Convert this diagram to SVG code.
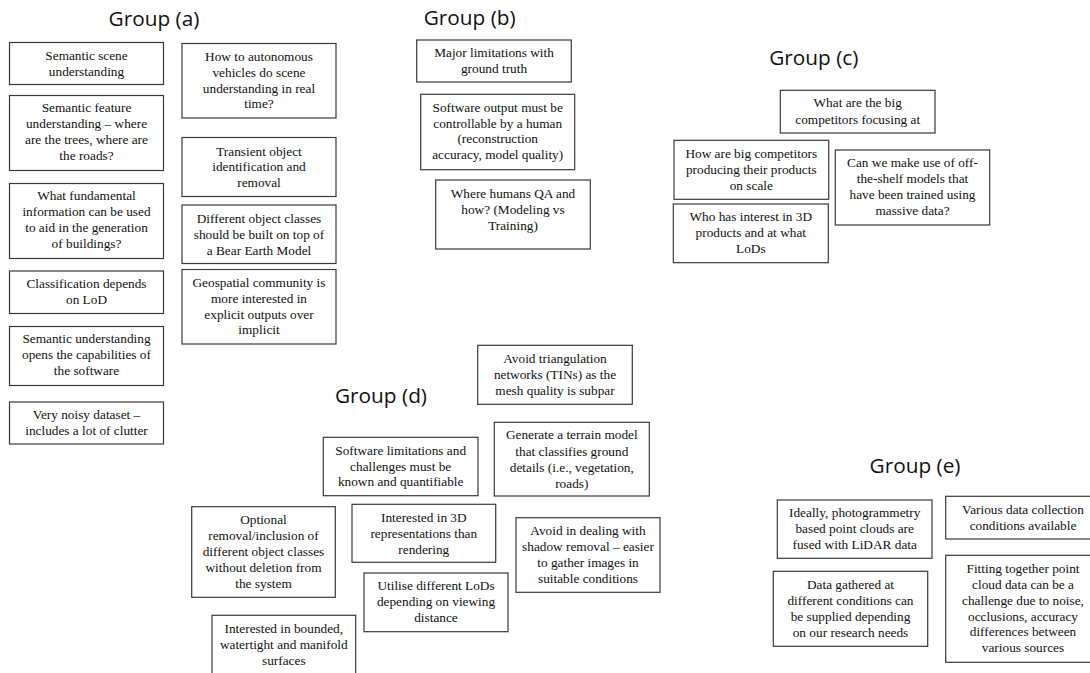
<svg xmlns="http://www.w3.org/2000/svg" width="1090" height="673" viewBox="0 0 1090 673">
<style>
rect{fill:#fff;stroke:#3a3a3a;stroke-width:1.2}
.t{font-family:'Liberation Serif',Tinos,'Times New Roman','Noto Serif','DejaVu Serif',serif;font-size:13.3px;fill:#111;text-anchor:middle}
.h{font-family:'Open Sans','Noto Sans',sans-serif;font-size:20.8px;fill:#111;text-anchor:middle}
</style>
<rect x="0" y="0" width="1090" height="673" style="stroke:none"/>
<g id="titles">
<text class="h" x="154" y="26">Group (a)</text>
<text class="h" x="469.7" y="25">Group (b)</text>
<text class="h" x="813.8" y="65">Group (c)</text>
<text class="h" x="381" y="403.3">Group (d)</text>
<text class="h" x="915" y="473.3">Group (e)</text>
</g>
<g id="a1"><rect x="9.5" y="42.5" width="154" height="42"/><text class="t" x="86.5" y="60">Semantic scene</text><text class="t" x="86.5" y="76">understanding</text></g>
<g id="a2"><rect x="9.5" y="95.5" width="154" height="75"/><text class="t" x="86.5" y="111.7">Semantic feature</text><text class="t" x="86.5" y="127.7">understanding – where</text><text class="t" x="86.5" y="143.7">are the trees, where are</text><text class="t" x="86.5" y="159.7">the roads?</text></g>
<g id="a3"><rect x="9.5" y="183.5" width="154" height="75"/><text class="t" x="86.5" y="200">What fundamental</text><text class="t" x="86.5" y="216">information can be used</text><text class="t" x="86.5" y="232">to aid in the generation</text><text class="t" x="86.5" y="248">of buildings?</text></g>
<g id="a4"><rect x="9.5" y="271" width="154" height="42.5"/><text class="t" x="86.5" y="288.3">Classification depends</text><text class="t" x="86.5" y="304">on LoD</text></g>
<g id="a5"><rect x="9.5" y="326.5" width="154" height="59"/><text class="t" x="86.5" y="342.7">Semantic understanding</text><text class="t" x="86.5" y="358.7">opens the capabilities of</text><text class="t" x="86.5" y="375">the software</text></g>
<g id="a6"><rect x="9.5" y="402" width="154" height="42"/><text class="t" x="86.5" y="419">Very noisy dataset –</text><text class="t" x="86.5" y="434.5">includes a lot of clutter</text></g>
<g id="a7"><rect x="182" y="43.5" width="154" height="74.5"/><text class="t" x="259" y="61">How to autonomous</text><text class="t" x="259" y="76.8">vehicles do scene</text><text class="t" x="259" y="92.7">understanding in real</text><text class="t" x="259" y="108.4">time?</text></g>
<g id="a8"><rect x="182" y="137.5" width="154" height="59"/><text class="t" x="259" y="155.7">Transient object</text><text class="t" x="259" y="171.3">identification and</text><text class="t" x="259" y="187">removal</text></g>
<g id="a9"><rect x="182" y="205" width="154" height="58.5"/><text class="t" x="259" y="222.7">Different object classes</text><text class="t" x="259" y="238.5">should be built on top of</text><text class="t" x="259" y="254.5">a Bear Earth Model</text></g>
<g id="a10"><rect x="182" y="269.5" width="154" height="74.5"/><text class="t" x="259" y="286.7">Geospatial community is</text><text class="t" x="259" y="302.7">more interested in</text><text class="t" x="259" y="318.5">explicit outputs over</text><text class="t" x="259" y="334.3">implicit</text></g>
<g id="b1"><rect x="416.7" y="40" width="154.6" height="42"/><text class="t" x="494" y="57.3">Major limitations with</text><text class="t" x="494" y="73">ground truth</text></g>
<g id="b2"><rect x="420.7" y="94.3" width="154" height="75.4"/><text class="t" x="497.7" y="111.7">Software output must be</text><text class="t" x="497.7" y="127.7">controllable by a human</text><text class="t" x="497.7" y="143.3">(reconstruction</text><text class="t" x="497.7" y="159.3">accuracy, model quality)</text></g>
<g id="b3"><rect x="435.7" y="180" width="154.6" height="69"/><text class="t" x="513" y="198.3">Where humans QA and</text><text class="t" x="513" y="214.3">how? (Modeling vs</text><text class="t" x="513" y="230.3">Training)</text></g>
<g id="c1"><rect x="780.3" y="90.3" width="154.7" height="42.7"/><text class="t" x="857.7" y="107.3">What are the big</text><text class="t" x="857.7" y="124">competitors focusing at</text></g>
<g id="c2"><rect x="674" y="140.3" width="154.7" height="59"/><text class="t" x="751.3" y="158.3">How are big competitors</text><text class="t" x="751.3" y="174.3">producing their products</text><text class="t" x="751.3" y="190">on scale</text></g>
<g id="c3"><rect x="673.3" y="204" width="155" height="58.7"/><text class="t" x="750.8" y="221.3">Who has interest in 3D</text><text class="t" x="750.8" y="237">products and at what</text><text class="t" x="750.8" y="252.7">LoDs</text></g>
<g id="c4"><rect x="835.3" y="150" width="154.4" height="75"/><text class="t" x="912.5" y="167.3">Can we make use of off-</text><text class="t" x="912.5" y="183.3">the-shelf models that</text><text class="t" x="912.5" y="199.3">have been trained using</text><text class="t" x="912.5" y="215.3">massive data?</text></g>
<g id="d1"><rect x="477.7" y="345.3" width="154.6" height="59"/><text class="t" x="555" y="362.7">Avoid triangulation</text><text class="t" x="555" y="379.3">networks (TINs) as the</text><text class="t" x="555" y="395.3">mesh quality is subpar</text></g>
<g id="d2"><rect x="323.3" y="437.3" width="154.7" height="58.4"/><text class="t" x="400.7" y="455">Software limitations and</text><text class="t" x="400.7" y="470.7">challenges must be</text><text class="t" x="400.7" y="486">known and quantifiable</text></g>
<g id="d3"><rect x="494.3" y="422.3" width="155" height="73.7"/><text class="t" x="571.8" y="439.3">Generate a terrain model</text><text class="t" x="571.8" y="455.7">that classifies ground</text><text class="t" x="571.8" y="471.7">details (i.e., vegetation,</text><text class="t" x="571.8" y="487.7">roads)</text></g>
<g id="d4"><rect x="191.7" y="506.7" width="143.6" height="90.6"/><text class="t" x="263.5" y="524.3">Optional</text><text class="t" x="263.5" y="540.3">removal/inclusion of</text><text class="t" x="263.5" y="556.3">different object classes</text><text class="t" x="263.5" y="572.3">without deletion from</text><text class="t" x="263.5" y="588.3">the system</text></g>
<g id="d5"><rect x="352" y="504.3" width="143.7" height="58"/><text class="t" x="423.8" y="521.7">Interested in 3D</text><text class="t" x="423.8" y="537.7">representations than</text><text class="t" x="423.8" y="553.7">rendering</text></g>
<g id="d6"><rect x="364" y="573" width="144" height="58.7"/><text class="t" x="436" y="590.3">Utilise different LoDs</text><text class="t" x="436" y="606.3">depending on viewing</text><text class="t" x="436" y="622.3">distance</text></g>
<g id="d7"><rect x="516" y="517.7" width="144" height="74.6"/><text class="t" x="588" y="535">Avoid in dealing with</text><text class="t" x="588" y="551">shadow removal – easier</text><text class="t" x="588" y="567">to gather images in</text><text class="t" x="588" y="583">suitable conditions</text></g>
<g id="d8"><rect x="212" y="615.3" width="143.7" height="70"/><text class="t" x="283.8" y="632.7">Interested in bounded,</text><text class="t" x="283.8" y="648.7">watertight and manifold</text><text class="t" x="283.8" y="664.7">surfaces</text></g>
<g id="e1"><rect x="777.3" y="500" width="154.7" height="58.3"/><text class="t" x="854.7" y="517.3">Ideally, photogrammetry</text><text class="t" x="854.7" y="533.3">based point clouds are</text><text class="t" x="854.7" y="549.3">fused with LiDAR data</text></g>
<g id="e2"><rect x="945.7" y="496.3" width="155" height="42.7"/><text class="t" x="1023" y="513.7">Various data collection</text><text class="t" x="1023" y="530">conditions available</text></g>
<g id="e3"><rect x="773.3" y="571.3" width="154.4" height="75"/><text class="t" x="850.5" y="588.7">Data gathered at</text><text class="t" x="850.5" y="604.7">different conditions can</text><text class="t" x="850.5" y="620.7">be supplied depending</text><text class="t" x="850.5" y="636.7">on our research needs</text></g>
<g id="e4"><rect x="945.7" y="555.3" width="155" height="107"/><text class="t" x="1023" y="572.7">Fitting together point</text><text class="t" x="1023" y="588.7">cloud data can be a</text><text class="t" x="1023" y="604.7">challenge due to noise,</text><text class="t" x="1023" y="620.7">occlusions, accuracy</text><text class="t" x="1023" y="636.3">differences between</text><text class="t" x="1023" y="652.3">various sources</text></g>
</svg>
